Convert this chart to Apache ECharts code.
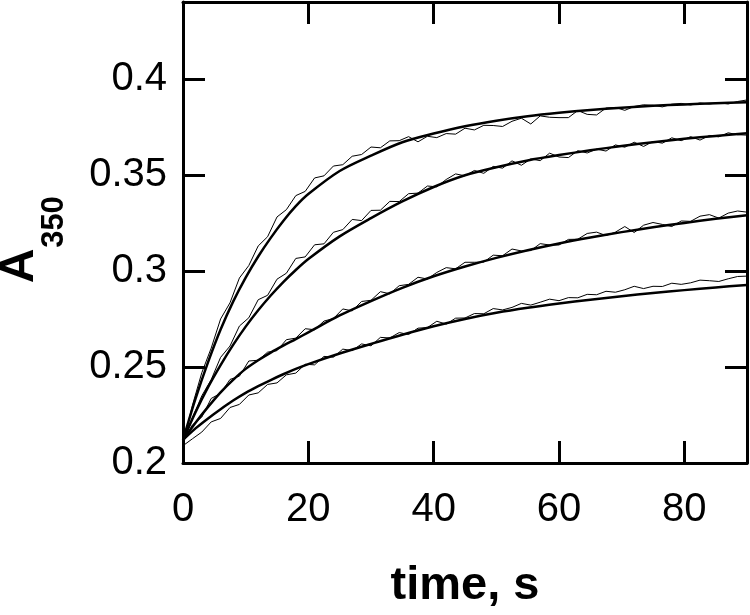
<!DOCTYPE html>
<html>
<head>
<meta charset="utf-8">
<script src="https://cdn.jsdelivr.net/npm/echarts@6/dist/echarts.min.js"></script>
<style>
  html, body { margin: 0; padding: 0; background: #fff; }
  #chart { width: 750px; height: 615px; }
</style>
</head>
<body>
<div id="chart"></div>
<script>
// fitted curves at these times (s)
var fitTime = [0, 2, 4, 6, 8, 10, 12, 14, 16, 18, 20, 25, 30, 35, 40, 45, 50, 55, 60, 65, 70, 75, 80, 85, 90];
var fit1 = [0.212, 0.2335, 0.2525, 0.2695, 0.2840, 0.2965, 0.3075, 0.3172, 0.3260, 0.3337, 0.3400, 0.3520, 0.3600, 0.3670, 0.3715, 0.3753, 0.3782, 0.3805, 0.3823, 0.3838, 0.3850, 0.3860, 0.3867, 0.3873, 0.3878];
var fit2 = [0.212, 0.2265, 0.2395, 0.2510, 0.2615, 0.2710, 0.2795, 0.2872, 0.2942, 0.3005, 0.3062, 0.3180, 0.3275, 0.3362, 0.3437, 0.3498, 0.3540, 0.3575, 0.3603, 0.3628, 0.3650, 0.3670, 0.3688, 0.3703, 0.3717];
var fit3 = [0.212, 0.2210, 0.2292, 0.2368, 0.2433, 0.2490, 0.2535, 0.2575, 0.2611, 0.2645, 0.2680, 0.2768, 0.2843, 0.2912, 0.2972, 0.3023, 0.3068, 0.3108, 0.3143, 0.3174, 0.3202, 0.3227, 0.3250, 0.3271, 0.3290];
var fit4 = [0.212, 0.2180, 0.2232, 0.2280, 0.2325, 0.2365, 0.2400, 0.2432, 0.2462, 0.2490, 0.2515, 0.2570, 0.2620, 0.2668, 0.2712, 0.2750, 0.2782, 0.2808, 0.2830, 0.2850, 0.2868, 0.2885, 0.2900, 0.2914, 0.2927];

// measured (noisy) traces
var rawTime = [0, 1.5, 3, 4.5, 6, 7.5, 9, 10.5, 12, 13.5, 15, 16.5, 18, 19.5, 21, 22.5, 24, 25.5, 27, 28.5,
  30, 31.5, 33, 34.5, 36, 37.5, 39, 40.5, 42, 43.5, 45, 46.5, 48, 49.5, 51, 52.5, 54, 55.5, 57, 58.5,
  60, 61.5, 63, 64.5, 66, 67.5, 69, 70.5, 72, 73.5, 75, 76.5, 78, 79.5, 81, 82.5, 84, 85.5, 87, 88.5, 90];
var raw1 = [0.210, 0.2300, 0.2470, 0.2598, 0.2750, 0.2834, 0.2963, 0.3028, 0.3130, 0.3178, 0.3281, 0.3319, 0.3392, 0.3414, 0.3484, 0.3495, 0.3546, 0.3553, 0.3597, 0.3606,
  0.3645, 0.3641, 0.3677, 0.3678, 0.3699, 0.3672, 0.3701, 0.3694, 0.3715, 0.3712, 0.3743, 0.3734, 0.3758, 0.3757, 0.3752, 0.3779, 0.3795, 0.3765, 0.3807, 0.3800,
  0.3798, 0.3798, 0.3835, 0.3815, 0.3812, 0.3848, 0.3851, 0.3836, 0.3856, 0.3865, 0.3862, 0.3854, 0.3868, 0.3872, 0.3864, 0.3874, 0.3869, 0.3876, 0.3869, 0.3882, 0.3890];
var raw2 = [0.210, 0.2234, 0.2350, 0.2434, 0.2550, 0.2609, 0.2713, 0.2756, 0.2850, 0.2873, 0.2957, 0.2988, 0.3065, 0.3073, 0.3136, 0.3141, 0.3201, 0.3215, 0.3268, 0.3262,
  0.3315, 0.3316, 0.3362, 0.3361, 0.3402, 0.3405, 0.3442, 0.3438, 0.3476, 0.3505, 0.3495, 0.3523, 0.3508, 0.3544, 0.3535, 0.3573, 0.3550, 0.3583, 0.3574, 0.3613,
  0.3593, 0.3590, 0.3626, 0.3614, 0.3634, 0.3624, 0.3656, 0.3644, 0.3670, 0.3648, 0.3674, 0.3665, 0.3693, 0.3678, 0.3699, 0.3681, 0.3705, 0.3698, 0.3719, 0.3709, 0.3707];
var raw3 = [0.211, 0.2198, 0.2239, 0.2336, 0.2363, 0.2435, 0.2452, 0.2531, 0.2535, 0.2577, 0.2585, 0.2642, 0.2650, 0.2699, 0.2694, 0.2739, 0.2752, 0.2802, 0.2792, 0.2841,
  0.2847, 0.2892, 0.2881, 0.2923, 0.2930, 0.2967, 0.2958, 0.2992, 0.3017, 0.3011, 0.3045, 0.3045, 0.3046, 0.3082, 0.3079, 0.3114, 0.3104, 0.3106, 0.3142, 0.3135,
  0.3135, 0.3164, 0.3165, 0.3195, 0.3202, 0.3184, 0.3202, 0.3231, 0.3200, 0.3238, 0.3252, 0.3242, 0.3231, 0.3260, 0.3258, 0.3285, 0.3293, 0.3275, 0.3301, 0.3312, 0.3306];
var raw4 = [0.209, 0.2126, 0.2161, 0.2214, 0.2232, 0.2289, 0.2305, 0.2354, 0.2365, 0.2409, 0.2417, 0.2459, 0.2468, 0.2514, 0.2511, 0.2555, 0.2551, 0.2593, 0.2585, 0.2620,
  0.2610, 0.2654, 0.2651, 0.2679, 0.2669, 0.2702, 0.2705, 0.2738, 0.2723, 0.2754, 0.2755, 0.2778, 0.2777, 0.2804, 0.2797, 0.2810, 0.2831, 0.2822, 0.2837, 0.2853,
  0.2845, 0.2861, 0.2860, 0.2878, 0.2876, 0.2894, 0.2889, 0.2902, 0.2920, 0.2908, 0.2920, 0.2919, 0.2936, 0.2930, 0.2938, 0.2952, 0.2949, 0.2945, 0.2959, 0.2971, 0.2973];

function pairs(xs, ys) {
  return xs.map(function (x, i) { return [x, ys[i]]; });
}

var chart = echarts.init(document.getElementById('chart'));
var font = '"Liberation Sans", Arial, Helvetica, sans-serif';

var axisCommon = {
  axisLine: { show: true, onZero: false, lineStyle: { color: '#000', width: 3 } },
  axisTick: { show: true, inside: true, length: 22, lineStyle: { color: '#000', width: 3 } },
  splitLine: { show: false }
};

var series = [];
[raw1, raw2, raw3, raw4].forEach(function (r) {
  series.push({
    type: 'line', data: pairs(rawTime, r), showSymbol: false,
    lineStyle: { color: '#000', width: 1 }
  });
});
[fit1, fit2, fit3, fit4].forEach(function (f) {
  series.push({
    type: 'line', data: pairs(fitTime, f), showSymbol: false,
    smooth: 0.3,
    lineStyle: { color: '#000', width: 2.5 }
  });
});

chart.setOption({
  animation: false,
  backgroundColor: '#fff',
  textStyle: { fontFamily: font },
  grid: { left: 183, right: 3, top: 2, bottom: 149 },
  xAxis: [
    Object.assign({
      type: 'value', min: 0, max: 90, interval: 20, position: 'bottom',
      axisLabel: { color: '#000', fontSize: 40, fontFamily: font, margin: 27, showMaxLabel: false },
      name: 'time, s', nameLocation: 'middle', nameGap: 100,
      nameTextStyle: { color: '#000', fontSize: 47, fontWeight: 'bold', fontFamily: font }
    }, axisCommon),
    Object.assign({
      type: 'value', min: 0, max: 90, interval: 20, position: 'top',
      axisLabel: { show: false }
    }, axisCommon)
  ],
  yAxis: [
    Object.assign({
      type: 'value', min: 0.2, max: 0.44, interval: 0.05, position: 'left',
      axisLabel: { color: '#000', fontSize: 40, fontFamily: font, margin: 16, showMaxLabel: false }
    }, axisCommon),
    Object.assign({
      type: 'value', min: 0.2, max: 0.44, interval: 0.05, position: 'right',
      axisLabel: { show: false }
    }, axisCommon)
  ],
  graphic: [
    {
      type: 'text', x: 20, y: 266, rotation: Math.PI / 2,
      style: { text: 'A', fill: '#000', font: 'bold 48px ' + font, textAlign: 'center', textVerticalAlign: 'middle' }
    },
    {
      type: 'text', x: 54, y: 222, rotation: Math.PI / 2,
      style: { text: '350', fill: '#000', font: 'bold 31px ' + font, textAlign: 'center', textVerticalAlign: 'middle' }
    }
  ],
  series: series
});
</script>
</body>
</html>
